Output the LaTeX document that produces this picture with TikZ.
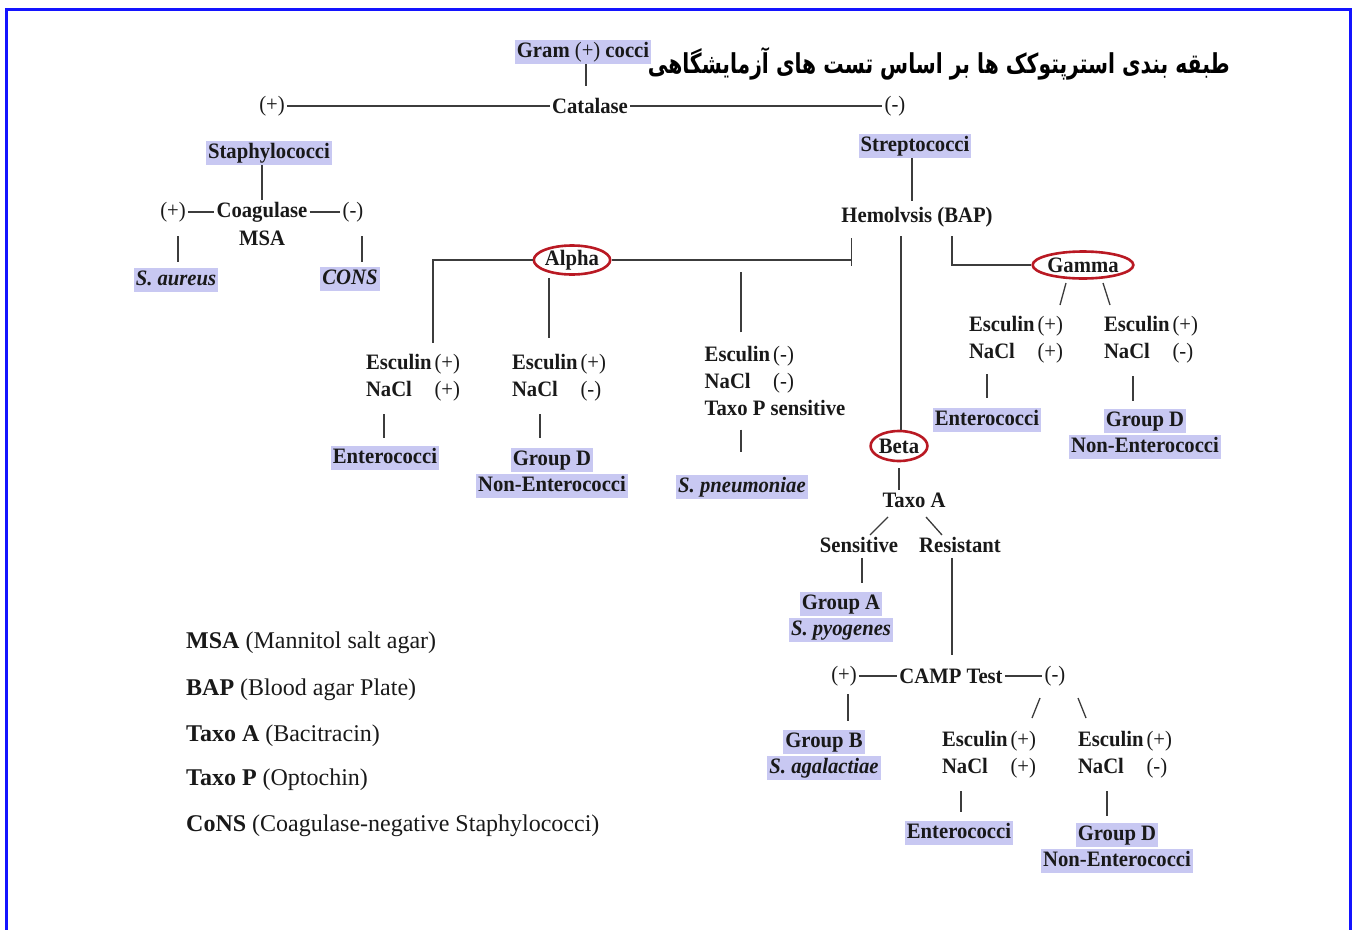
\documentclass[tikz,border=0pt]{standalone}
\usepackage{fontspec}
\usepackage{graphicx}
\setmainfont{Liberation Serif}
\newfontfamily\dfont[FakeStretch=0.94]{Liberation Serif}
\newfontfamily\arabicfont[Script=Arabic]{DejaVu Sans}
\TeXXeTstate=1
\usetikzlibrary{shapes.geometric,calc}
\definecolor{hlc}{RGB}{200,200,242}
\definecolor{ink}{RGB}{25,25,25}
\definecolor{ovl}{RGB}{185,25,35}
\definecolor{frame}{RGB}{20,20,255}
\newcommand{\hlb}[1]{{\setlength{\fboxsep}{2pt}\colorbox{hlc}{\rule[-4.5pt]{0pt}{20pt}#1}}}
\newcommand{\sg}[1]{{\mdseries(#1)}}
\newcommand{\escblk}[2]{\begin{tabular}{@{}l@{\hspace{3pt}}l@{}}Esculin&\sg{#1}\\NaCl&\sg{#2}\end{tabular}}
\tikzset{
  line/.style={draw=ink!85, line width=1.3pt},
  txt/.style={font=\dfont\bfseries\fontsize{22}{27}\selectfont, text=ink, inner sep=2pt, align=center},
  hl/.style={txt, inner sep=0pt},
  oval/.style={txt, ellipse, draw=ovl, line width=2.6pt, inner sep=0pt},
  leg/.style={anchor=west, font=\fontsize{24}{28}\selectfont, text=ink, inner sep=0pt}
}
\begin{document}
\begin{tikzpicture}[x=1pt,y=-1pt]
\useasboundingbox (0,0) rectangle (1352,929);
\draw[frame, line width=3pt] (6.5,935) -- (6.5,9.5) -- (1350,9.5) -- (1350,935);

% title
\node[anchor=east, inner sep=0pt] (title) at (1230,64)
  {\scalebox{1}[1.35]{\resizebox{582pt}{!}{\arabicfont\bfseries\beginR طبقه بندی استرپتوکک ها بر اساس تست های آزمایشگاهی\endR}}};

% top
\node[hl] (gram) at (583,52) {\hlb{Gram \sg{+} cocci}};
\node[txt] (cat) at (590,106) {Catalase};
\node[txt] (catp) at (272,106) {\sg{+}};
\node[txt] (catn) at (895,106) {\sg{-}};
\draw[line, shorten >=10pt] ([xshift=3pt]gram.south) -- ([xshift=3pt]gram.south |- cat.north);
\draw[line] (catp) -- (cat);
\draw[line] (cat) -- (catn);

% staphylococci
\node[hl] (staph) at (269,153) {\hlb{Staphylococci}};
\node[txt] (coag) at (262,212) {Coagulase};
\node[txt] (msa) at (262,238) {MSA};
\node[txt] (coagp) at (173,212) {\sg{+}};
\node[txt] (coagn) at (353,212) {\sg{-}};
\node[hl] (saur) at (176,280) {\hlb{\itshape S. aureus}};
\node[hl] (cons) at (350,279) {\hlb{\itshape CONS}};
\draw[line] (coag.north |- staph.south) -- (coag.north);
\draw[line] (coagp) -- (coag);
\draw[line] (coag) -- (coagn);
\draw[line, shorten <=12pt, shorten >=6pt] ([xshift=5pt]coagp.south) -- ([xshift=5pt]coagp.south |- saur.north);
\draw[line, shorten <=12pt, shorten >=5pt] ([xshift=9pt]coagn.south) -- ([xshift=9pt]coagn.south |- cons.north);

% streptococci
\node[hl] (strep) at (915,146) {\hlb{Streptococci}};
\node[txt] (hemo) at (917,217) {Hemolvsis (BAP)};
\draw[line, shorten >=4pt] ([xshift=-3pt]strep.south) -- ([xshift=-3pt]strep.south |- hemo.north);

% alpha
\node[oval, minimum width=68pt, minimum height=29pt] (alpha) at (572,260) {Alpha};
\node[txt] (esc1) at (413,378) {\escblk{+}{+}};
\node[txt] (esc2) at (559,378) {\escblk{+}{-}};
\node[txt] (esc3) at (775,383) {\begin{tabular}{@{}l@{\hspace{3pt}}l@{}}Esculin&\sg{-}\\NaCl&\sg{-}\\\multicolumn{2}{@{}l@{}}{Taxo P sensitive}\end{tabular}};
\node[hl] (ent1) at (385,458) {\hlb{Enterococci}};
\node[hl] (gd1) at (552,473) {\hlb{Group D}\\[-1pt]\hlb{Non-Enterococci}};
\node[hl] (spn) at (742,487) {\hlb{\itshape S. pneumoniae}};
\coordinate (hj) at ([shift={(12.5,9)}]hemo.south west);
\draw[line] (hj) -- ++(0,28);
\draw[line] (alpha.east) -- (alpha.east -| hj);
\draw[line, shorten >=6pt] (alpha.west) -| ([xshift=20pt]esc1.north);
\draw[line, shorten <=2pt, shorten >=11pt] ([xshift=-23pt]alpha.south) -- ([xshift=-23pt]alpha.south |- esc2.north);
\draw[line] ([shift={(-34,-8)}]esc3.north) -- ++(0,-60);
\draw[line, shorten <=7pt, shorten >=8pt] ([xshift=-29pt]esc1.south) -- ([xshift=-29pt]esc1.south |- ent1.north);
\draw[line, shorten <=7pt, shorten >=10pt] ([xshift=-19pt]esc2.south) -- ([xshift=-19pt]esc2.south |- gd1.north);
\draw[line, shorten <=4pt, shorten >=23pt] ([xshift=-34pt]esc3.south) -- ([xshift=-34pt]esc3.south |- spn.north);

% gamma
\node[oval, minimum width=82pt, minimum height=27pt] (gamma) at (1083,265) {Gamma};
\node[txt] (esc4) at (1016,340) {\escblk{+}{+}};
\node[txt] (esc5) at (1151,340) {\escblk{+}{-}};
\node[hl] (ent2) at (987,420) {\hlb{Enterococci}};
\node[hl] (gd2) at (1145,434) {\hlb{Group D}\\[-1pt]\hlb{Non-Enterococci}};
\draw[line, shorten <=7pt] ([xshift=35pt]hemo.south) |- (gamma.west);
\draw[line] ([shift={(-17,18)}]gamma.center) -- ([shift={(-23,40)}]gamma.center);
\draw[line] ([shift={(20,18)}]gamma.center) -- ([shift={(27,40)}]gamma.center);
\draw[line, shorten <=5pt, shorten >=10pt] ([xshift=-29pt]esc4.south) -- ([xshift=-29pt]esc4.south |- ent2.north);
\draw[line, shorten <=7pt, shorten >=8pt] ([xshift=-18pt]esc5.south) -- ([xshift=-18pt]esc5.south |- gd2.north);

% beta
\node[oval, minimum width=56pt, minimum height=30pt] (beta) at (899,446) {Beta};
\node[txt] (taxoa) at (914,500) {Taxo A};
\node[txt] (sens) at (859,545) {Sensitive};
\node[txt] (res) at (960,545) {Resistant};
\node[hl] (grpa) at (841,617) {\hlb{Group A}\\[-1pt]\hlb{\itshape S. pyogenes}};
\draw[line, shorten <=7pt] ([xshift=-16pt]hemo.south) -- ([xshift=-16pt]hemo.south |- beta.north);
\draw[line, shorten <=6pt] (beta.south) -- (beta.south |- taxoa.north);
\draw[line] ([shift={(-26,17)}]taxoa.center) -- ([shift={(-44,35)}]taxoa.center);
\draw[line] ([shift={(12,17)}]taxoa.center) -- ([shift={(28,35)}]taxoa.center);
\draw[line, shorten <=3pt, shorten >=9pt] ([xshift=3pt]sens.south) -- ([xshift=3pt]sens.south |- grpa.north);

% CAMP
\node[txt] (camp) at (951,676) {CAMP Test};
\node[txt] (campp) at (844,676) {\sg{+}};
\node[txt] (campn) at (1055,676) {\sg{-}};
\node[hl] (grpb) at (824,755) {\hlb{Group B}\\[-1pt]\hlb{\itshape S. agalactiae}};
\node[txt] (esc6) at (989,755) {\escblk{+}{+}};
\node[txt] (esc7) at (1125,755) {\escblk{+}{-}};
\node[hl] (ent3) at (959,833) {\hlb{Enterococci}};
\node[hl] (gd3) at (1117,848) {\hlb{Group D}\\[-1pt]\hlb{Non-Enterococci}};
\draw[line, shorten <=3pt, shorten >=11pt] ([xshift=-8pt]res.south) -- ([xshift=-8pt]res.south |- camp.north);
\draw[line] (campp) -- (camp);
\draw[line] (camp) -- (campn);
\draw[line, shorten <=6pt, shorten >=9pt] ([xshift=4pt]campp.south) -- ([xshift=4pt]campp.south |- grpb.north);
\draw[line] ([shift={(-15,22)}]campn.center) -- ([shift={(-23,42)}]campn.center);
\draw[line] ([shift={(23,22)}]campn.center) -- ([shift={(31,42)}]campn.center);
\draw[line, shorten <=7pt, shorten >=9pt] ([xshift=-28pt]esc6.south) -- ([xshift=-28pt]esc6.south |- ent3.north);
\draw[line, shorten <=7pt, shorten >=7pt] ([xshift=-18pt]esc7.south) -- ([xshift=-18pt]esc7.south |- gd3.north);

% legend
\node[leg] (l1) at (186,643) {\textbf{MSA} (Mannitol salt agar)};
\node[leg] (l2) at (186,690) {\textbf{BAP} (Blood agar Plate)};
\node[leg] (l3) at (186,736) {\textbf{Taxo A} (Bacitracin)};
\node[leg] (l4) at (186,780) {\textbf{Taxo P} (Optochin)};
\node[leg] (l5) at (186,826) {\textbf{CoNS} (Coagulase-negative Staphylococci)};
\end{tikzpicture}
\end{document}
